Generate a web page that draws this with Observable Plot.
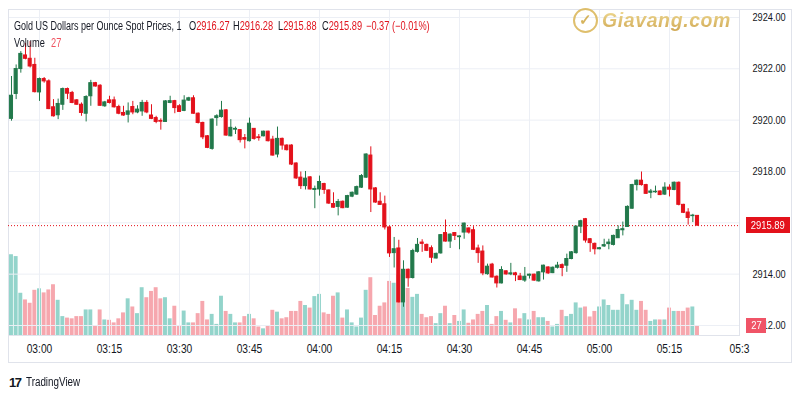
<!DOCTYPE html>
<html><head><meta charset="utf-8">
<script src="https://cdn.jsdelivr.net/npm/d3@7"></script>
<script src="https://cdn.jsdelivr.net/npm/@observablehq/plot@0.6"></script>
<style>
body{margin:0;background:#fff;}
#wrap{position:relative;width:800px;height:400px;overflow:hidden;background:#fff;font-family:'Liberation Sans',Arial,sans-serif;color:#131722;}
.abs{position:absolute;white-space:nowrap;}
.lg{font-size:12px;line-height:14px;transform:scaleX(0.77);transform-origin:0 50%;}
.red{color:#e0141e;}
</style>
</head><body>
<div id="wrap">
  <div class="abs" style="left:8px;top:9px;width:784px;height:354px;border:1px solid #e0e3eb;box-sizing:border-box;"></div>
  <div id="vol" class="abs" style="left:0;top:0"></div>
  <div id="main" class="abs" style="left:0;top:0"></div>
  <div class="abs lg" style="left:14px;top:19px;transform:scaleX(0.75);">Gold US Dollars per Ounce Spot Prices, 1</div>
  <div class="abs lg" style="left:189px;top:19px;">O<span class="red">2916.27</span></div>
  <div class="abs lg" style="left:233px;top:19px;">H<span class="red">2916.28</span></div>
  <div class="abs lg" style="left:278px;top:19px;">L<span class="red">2915.88</span></div>
  <div class="abs lg" style="left:322px;top:19px;">C<span class="red">2915.89</span></div>
  <div class="abs lg red" style="left:366px;top:19px;">−0.37 (−0.01%)</div>
  <div class="abs lg" style="left:14px;top:36px;">Volume</div>
  <div class="abs lg" style="left:51px;top:36px;color:#f0525f;">27</div>
  <div class="abs" style="left:573px;top:8px;width:25px;height:25px;border:2.5px solid #dcb95e;border-radius:50%;box-sizing:border-box;color:#d2ac4c;font:bold 15px 'Liberation Sans',sans-serif;text-align:center;line-height:20px;opacity:0.9;">✓</div>
  <div class="abs" style="left:602px;top:9px;font:bold italic 19.5px 'Liberation Sans',sans-serif;letter-spacing:0.6px;background:linear-gradient(#f0d98c,#c99d3e);-webkit-background-clip:text;background-clip:text;color:transparent;opacity:0.9;">Giavang.com</div>
  <div class="abs" style="left:9px;top:375px;font:bold 13px 'Liberation Sans',sans-serif;letter-spacing:-1.5px;color:#131722;">17</div>
  <div class="abs" style="left:26px;top:375px;font-size:12px;line-height:15px;color:#131722;transform:scaleX(0.82);transform-origin:0 50%;">TradingView</div>
</div>
<script>
// ---- data ----
const opens = [2920.05,2921.02,2921.99,2922.52,2922.39,2922.15,2921.08,2921.60,2921.51,2920.50,2920.19,2920.60,2921.21,2921.06,2920.77,2920.60,2920.25,2920.93,2921.44,2921.34,2920.54,2920.77,2920.77,2920.51,2920.28,2920.21,2920.51,2920.30,2920.34,2920.67,2920.18,2920.08,2919.97,2919.93,2920.67,2920.74,2920.54,2920.36,2920.76,2920.85,2920.25,2919.89,2919.37,2918.88,2920.08,2920.12,2920.38,2919.37,2919.63,2919.61,2919.30,2919.18,2919.66,2919.33,2919.37,2919.55,2919.24,2918.66,2919.27,2919.01,2919.01,2918.31,2917.76,2917.43,2917.77,2917.28,2917.30,2917.51,2917.26,2916.73,2916.62,2916.82,2916.59,2917.02,2917.10,2917.37,2917.76,2918.62,2917.34,2916.82,2916.72,2915.82,2914.82,2915.00,2912.90,2914.17,2913.85,2914.87,2915.23,2915.14,2915.01,2914.61,2914.81,2915.60,2915.27,2915.60,2915.44,2915.62,2915.78,2915.71,2915.00,2914.88,2914.00,2914.37,2913.90,2913.64,2914.11,2913.99,2914.03,2913.91,2913.75,2913.94,2913.98,2913.72,2914.07,2914.26,2914.04,2914.25,2914.35,2914.33,2914.59,2914.82,2915.85,2916.14,2915.36,2915.18,2914.97,2915.08,2915.17,2915.14,2915.40,2915.71,2915.84,2916.55,2917.47,2917.64,2917.47,2917.17,2917.19,2917.22,2917.10,2917.37,2917.28,2917.56,2916.70,2916.40,2916.26,2916.27];
const highs = [2921.70,2922.15,2922.67,2922.99,2923.06,2922.41,2921.64,2921.66,2921.57,2920.80,2920.82,2921.25,2921.25,2921.12,2920.80,2920.67,2920.95,2921.55,2921.47,2921.38,2920.73,2920.93,2920.90,2920.58,2920.54,2920.67,2920.73,2920.56,2920.77,2920.76,2920.60,2920.15,2920.05,2920.76,2920.93,2920.77,2920.60,2920.95,2920.89,2920.95,2920.28,2919.92,2919.40,2920.05,2920.21,2920.73,2920.41,2920.02,2919.73,2919.63,2919.44,2920.08,2919.66,2919.44,2919.57,2919.57,2919.37,2919.73,2919.30,2919.04,2919.04,2918.34,2917.98,2918.00,2917.80,2917.43,2917.82,2917.54,2917.28,2917.17,2916.91,2916.85,2917.07,2917.20,2917.43,2917.88,2918.69,2918.96,2917.37,2917.17,2917.04,2915.85,2915.43,2915.32,2914.52,2914.20,2914.97,2915.39,2915.34,2915.17,2915.10,2914.82,2915.54,2916.11,2915.57,2915.62,2915.49,2915.99,2915.80,2915.85,2915.13,2915.10,2914.39,2914.42,2913.93,2914.29,2914.13,2914.42,2914.07,2914.03,2914.26,2914.00,2914.00,2914.10,2914.35,2914.29,2914.28,2914.46,2914.40,2914.78,2914.88,2915.88,2916.10,2916.17,2915.39,2915.21,2915.04,2915.36,2915.36,2915.52,2915.88,2916.03,2916.66,2917.50,2917.67,2917.98,2917.50,2917.30,2917.43,2917.25,2917.56,2917.48,2917.59,2917.59,2916.72,2916.55,2916.33,2916.28];
const lows = [2919.96,2920.80,2921.83,2922.35,2922.03,2921.06,2920.73,2921.44,2920.41,2920.12,2920.02,2920.38,2920.80,2920.64,2920.58,2920.15,2919.93,2920.54,2921.29,2920.54,2920.50,2920.63,2920.47,2920.21,2920.15,2919.89,2920.21,2920.25,2920.15,2920.25,2920.02,2919.86,2919.61,2919.92,2920.64,2920.25,2920.30,2920.33,2920.73,2920.23,2919.85,2919.24,2918.89,2918.83,2919.76,2920.08,2919.37,2919.35,2919.44,2919.11,2918.88,2919.15,2919.22,2919.18,2919.35,2919.15,2918.60,2918.53,2918.83,2918.80,2918.23,2917.69,2917.30,2917.28,2917.28,2916.55,2917.04,2917.11,2916.72,2916.57,2916.27,2916.55,2916.57,2916.98,2917.07,2917.34,2917.73,2916.40,2916.76,2916.68,2915.72,2914.65,2914.24,2912.88,2912.71,2913.49,2913.81,2914.82,2914.85,2914.88,2914.42,2914.59,2914.78,2915.25,2915.00,2915.31,2914.95,2915.36,2915.56,2914.92,2914.42,2913.94,2913.96,2913.85,2913.46,2913.62,2913.96,2913.94,2913.71,2913.75,2913.68,2913.81,2913.72,2913.69,2913.77,2913.99,2914.02,2914.20,2913.90,2914.07,2914.56,2914.78,2915.58,2915.21,2914.85,2914.75,2914.95,2915.04,2914.95,2915.10,2915.39,2915.49,2915.82,2916.53,2917.24,2917.43,2917.11,2916.94,2917.15,2917.06,2917.07,2917.01,2917.25,2916.66,2916.36,2915.91,2916.01,2915.88];
const closes = [2920.95,2921.99,2922.58,2922.39,2922.09,2921.09,2921.60,2921.51,2920.43,2920.15,2920.63,2921.21,2921.03,2920.67,2920.60,2920.28,2920.90,2921.44,2921.31,2920.56,2920.69,2920.67,2920.50,2920.25,2920.18,2920.34,2920.30,2920.41,2920.67,2920.30,2920.05,2919.93,2919.94,2920.73,2920.74,2920.47,2920.32,2920.76,2920.85,2920.25,2919.89,2919.33,2918.92,2920.02,2920.15,2920.37,2919.40,2919.70,2919.66,2919.22,2919.24,2919.86,2919.27,2919.30,2919.55,2919.18,2918.62,2919.27,2919.01,2918.83,2918.27,2917.73,2917.43,2917.72,2917.30,2917.32,2917.59,2917.28,2916.75,2916.59,2916.81,2916.57,2917.04,2917.17,2917.39,2917.82,2918.66,2917.30,2916.79,2916.70,2915.82,2914.81,2914.97,2912.90,2914.17,2913.84,2914.90,2915.14,2915.18,2914.91,2914.64,2914.79,2915.52,2915.27,2915.54,2915.49,2915.47,2915.97,2915.62,2914.95,2914.82,2914.03,2914.29,2913.87,2913.64,2914.16,2913.99,2914.03,2913.96,2913.77,2913.90,2913.98,2913.75,2914.07,2914.33,2914.03,2914.25,2914.33,2914.24,2914.59,2914.85,2915.85,2916.06,2915.31,2915.21,2914.97,2915.01,2915.13,2915.23,2915.49,2915.72,2915.75,2916.62,2917.47,2917.64,2917.47,2917.13,2917.22,2917.21,2917.08,2917.37,2917.29,2917.56,2916.70,2916.39,2916.19,2916.28,2915.89];
const volumes = [218,213,114,96,87,122,126,115,123,137,95,51,47,45,51,51,69,69,27,69,42,41,34,45,61,99,77,59,129,102,119,129,99,102,45,79,27,66,34,34,59,92,42,57,30,106,65,57,34,34,51,57,45,23,18,25,68,63,45,48,65,65,92,81,74,105,111,61,57,106,115,47,69,34,23,47,122,156,54,79,88,146,141,165,120,127,103,111,57,48,51,32,59,79,32,54,38,69,33,42,57,65,81,30,51,65,41,34,72,45,59,42,65,48,48,38,23,30,68,51,57,88,74,77,50,65,77,96,81,68,68,111,83,95,68,92,68,38,42,42,42,74,65,65,65,74,77,27];
const firstCandle = "02:54";
const tickLabels = ["03:00","03:15","03:30","03:45","04:00","04:15","04:30","04:45","05:00","05:15","05:3"];
const priceTicks = [2912,2914,2916,2918,2920,2922,2924];
const priceLabelTicks = [2912,2914,2918,2920,2922,2924]; // 2916.00 is hidden under the last-price tag

// ---- build ----
const FONT = "'Liberation Sans',Arial,sans-serif";
const GREEN = "#22794b", RED = "#e3111b", TEAL = "#93d4cb", PINK = "#f6a7ae";
const MIN = 60000;
const day = Date.UTC(2025,0,1);
const [fh, fm] = firstCandle.split(":").map(Number);
const t0 = day + (fh*60+fm)*MIN;
const tick0 = day + 3*60*MIN;
const data = closes.map((c,i)=>({t:new Date(t0+i*MIN), o:opens[i], h:highs[i], l:lows[i], c, v:volumes[i], up:c>=opens[i]}));
const xTicks = tickLabels.map((_,i)=>new Date(tick0 + i*15*MIN));
const labelMap = new Map(xTicks.map((d,i)=>[+d, tickLabels[i]]));
const xDomain = [new Date(tick0 - 6.64*MIN), new Date(tick0 + 150*MIN)];
const layout = {width:800, height:365, marginLeft:8, marginRight:61, marginTop:9, marginBottom:30};
const half = 0.33*MIN, vhalf = 0.42*MIN;
const last = data[data.length-1];

const vol = Plot.plot({
  ...layout,
  style:{background:"transparent"},
  x:{type:"utc", domain:xDomain, axis:null},
  y:{domain:[0,880], axis:null},
  color:{type:"identity"},
  marks:[
    Plot.rect(data, {x1:d=>new Date(+d.t-vhalf), x2:d=>new Date(+d.t+vhalf), y1:d=>0, y2:"v", fill:d=>d.up?TEAL:PINK})
  ]
});
document.getElementById("vol").appendChild(vol);

const main = Plot.plot({
  ...layout,
  style:{background:"transparent", fontFamily:FONT, fontSize:"11px", color:"#131722", overflow:"visible"},
  x:{type:"utc", domain:xDomain, label:null},
  y:{domain:[2911.61, 2924.31], label:null},
  color:{type:"identity"},
  marks:[
    Plot.gridX(xTicks, {stroke:"#eceff5", strokeOpacity:1}),
    Plot.gridY(priceTicks, {stroke:"#eceff5", strokeOpacity:1}),
    Plot.frame({stroke:"#e0e3eb"}),
    Plot.axisY(priceLabelTicks, {anchor:"right", tickSize:0, tickPadding:13, tickFormat:d=>d.toFixed(2), label:null, fill:"#131722", fontSize:11.5}),
    Plot.axisX(xTicks, {anchor:"bottom", tickSize:0, tickPadding:9, tickFormat:d=>labelMap.get(+d), label:null, fill:"#131722", fontSize:12.5}),
    Plot.ruleY([last.c], {stroke:RED, strokeDasharray:"1,2"}),
    Plot.ruleX(data, {x:"t", y1:"l", y2:"h", stroke:d=>d.up?GREEN:RED, strokeWidth:1}),
    Plot.rect(data, {x1:d=>new Date(+d.t-half), x2:d=>new Date(+d.t+half), y1:d=>Math.min(d.o,d.c), y2:d=>Math.max(d.o,d.c), fill:d=>d.up?GREEN:RED, stroke:d=>d.up?GREEN:RED, strokeWidth:1})
  ]
});
document.getElementById("main").appendChild(main);

// narrow the axis tick labels horizontally (reference uses a condensed face)
function squeeze(svg, sel, k){
  svg.querySelectorAll(sel).forEach(t=>{
    const x = t.getAttribute("x");
    if (x != null) t.setAttribute("x", (+x)/k);
    const tr = t.getAttribute("transform") || "";
    t.setAttribute("transform", tr + ` scale(${k},1)`);
  });
}
squeeze(main, 'g[aria-label="y-axis tick label"] text', 0.8);
squeeze(main, 'g[aria-label="x-axis tick label"] text', 0.82);

// price and volume labels on the price axis, placed through the scales
const wrap = document.getElementById("wrap");
const py = main.scale("y").apply(last.c);
const pb = document.createElement("div");
pb.className = "abs";
pb.style.cssText = `left:746px;top:${py-8}px;width:44px;height:16px;background:${RED};color:#fff;font-size:11.5px;line-height:16px;text-align:center;`;
pb.innerHTML = `<span style="display:inline-block;transform:scaleX(0.82)">${last.c.toFixed(2)}</span>`;
wrap.appendChild(pb);
const vy = vol.scale("y").apply(last.v);
const vb = document.createElement("div");
vb.className = "abs";
vb.style.cssText = `left:746px;top:${vy-7}px;width:20px;height:15px;background:#f05467;color:#fff;font-size:11.5px;line-height:15px;text-align:center;`;
vb.innerHTML = `<span style="display:inline-block;transform:scaleX(0.82)">${last.v}</span>`;
wrap.appendChild(vb);
</script>
</body></html>
